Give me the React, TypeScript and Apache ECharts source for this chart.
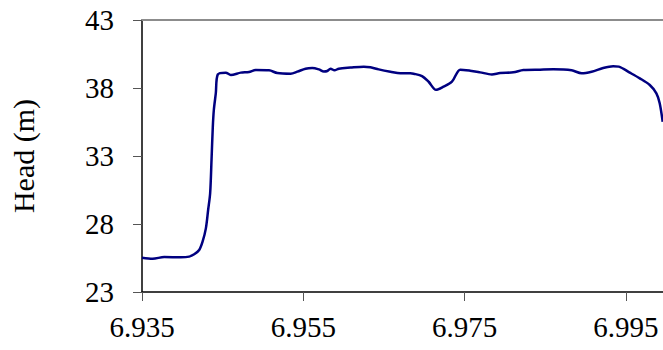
import React, { useEffect, useRef } from "react";
import * as echarts from "echarts";

const timeValues = [
  6.935, 6.93632, 6.93776, 6.93982, 6.94085, 6.94147, 6.94209, 6.94251, 6.94292, 6.9432,
  6.94345, 6.94362, 6.94378, 6.94391, 6.94415, 6.9444, 6.94539, 6.94601, 6.94725, 6.94827,
  6.9491, 6.95075, 6.95178, 6.95343, 6.95426, 6.95528, 6.95611, 6.95693, 6.95755, 6.95797,
  6.95838, 6.95887, 6.9594, 6.96085, 6.9625, 6.96332, 6.96435, 6.9658, 6.96704, 6.96827,
  6.96868, 6.96972, 6.97054, 6.97145, 6.97239, 6.97343, 6.97446, 6.97569, 6.97693, 6.97838,
  6.9794, 6.98105, 6.98229, 6.98435, 6.986, 6.98827, 6.98951, 6.99075, 6.99218, 6.99342,
  6.99412, 6.99548, 6.99672, 6.99796, 6.99878, 6.99919, 6.99956,
];

const headValues = [
  25.52, 25.45, 25.57, 25.55, 25.6, 25.77, 26.09, 26.7, 27.68, 29.03,
  30.26, 32.7, 35.15, 36.4, 37.6, 39.0, 39.13, 38.96, 39.13, 39.18,
  39.32, 39.3, 39.1, 39.05, 39.2, 39.42, 39.47, 39.37, 39.22, 39.25,
  39.42, 39.3, 39.42, 39.5, 39.57, 39.52, 39.37, 39.2, 39.08, 39.08,
  39.05, 38.88, 38.46, 37.87, 38.1, 38.46, 39.35, 39.27, 39.15, 39.0,
  39.1, 39.15, 39.32, 39.35, 39.37, 39.3, 39.08, 39.2, 39.47, 39.6,
  39.57, 39.13, 38.71, 38.22, 37.61, 36.88, 35.52,
];

const xMin = 6.935;
const xMax = 6.9996;
const xInterval = 0.02;
const yMin = 23;
const yMax = 43;
const yInterval = 5;
const yAxisTitle = "Head (m)";

const FONT = "'Liberation Serif', 'Times New Roman', serif";

export default function App() {
  const ref = useRef<HTMLDivElement>(null);

  useEffect(() => {
    if (!ref.current) return;
    const chart = echarts.init(ref.current, null, { renderer: "svg" });
    const data = timeValues.map((t, i) => [t, headValues[i]]);
    chart.setOption({
      animation: false,
      backgroundColor: "#ffffff",
      grid: { left: 141, top: 20, right: 0, bottom: 58 },
      xAxis: [
        {
          type: "value",
          min: xMin,
          max: xMax,
          interval: xInterval,
          position: "bottom",
          axisLine: { show: true, lineStyle: { color: "#000", width: 1.5 } },
          axisTick: { show: true, inside: false, length: 9, lineStyle: { color: "#555", width: 1 } },
          axisLabel: {
            show: true,
            margin: 20,
            color: "#000",
            fontFamily: FONT,
            fontSize: 29,
            showMaxLabel: false,
            formatter: (v: number) => v.toFixed(3),
          },
          splitLine: { show: false },
        },
        {
          type: "value",
          min: xMin,
          max: xMax,
          position: "top",
          axisLine: { show: true, lineStyle: { color: "#8c8c8c", width: 2 } },
          axisTick: { show: false },
          axisLabel: { show: false },
          splitLine: { show: false },
        },
      ],
      yAxis: {
        type: "value",
        min: yMin,
        max: yMax,
        interval: yInterval,
        name: yAxisTitle,
        nameLocation: "middle",
        nameGap: 104,
        nameRotate: 90,
        nameTextStyle: { color: "#000", fontFamily: FONT, fontSize: 30 },
        axisLine: { show: true, lineStyle: { color: "#000", width: 1.5 } },
        axisTick: { show: true, inside: false, length: 9, lineStyle: { color: "#555", width: 1 } },
        axisLabel: {
          show: true,
          margin: 28,
          color: "#000",
          fontFamily: FONT,
          fontSize: 29,
        },
        splitLine: { show: false },
      },
      series: [
        {
          type: "line",
          xAxisIndex: 0,
          data,
          smooth: 0.3,
          showSymbol: false,
          lineStyle: { color: "#000080", width: 2.5 },
          clip: true,
        },
      ],
    });
    return () => chart.dispose();
  }, []);

  return (
    <div
      ref={ref}
      style={{ position: "fixed", left: 0, top: 0, width: 663, height: 350, background: "#fff" }}
    />
  );
}
